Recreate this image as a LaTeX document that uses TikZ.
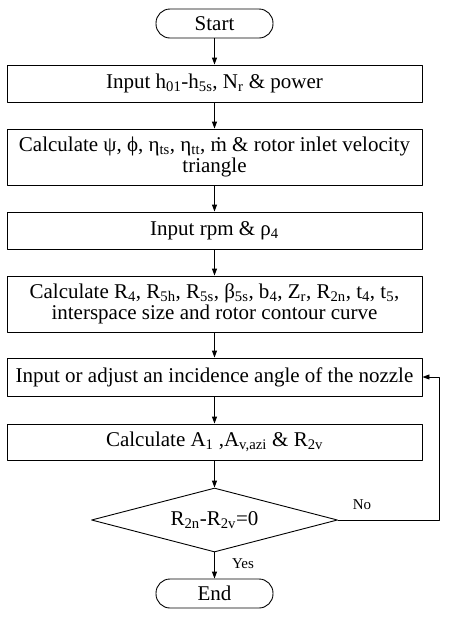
\documentclass[tikz,border=0pt]{standalone}
\usepackage{fontspec}
\setmainfont{Liberation Serif}
\usetikzlibrary{arrows.meta,shapes.geometric}
\tikzset{
    procbox/.style = {draw, line width=0.9pt, minimum width=415pt, inner sep=0pt, align=center},
    termbox/.style = {draw, line width=0.9pt, rounded corners=14pt, minimum width=117pt, minimum height=29pt, inner sep=0pt},
    decbox/.style = {draw, line width=0.9pt, diamond, aspect=3.8, inner sep=0pt, minimum width=246pt, minimum height=64pt},
    flow/.style = {line width=0.9pt, -{Triangle[length=7pt,width=5pt]}}
}
\newcommand{\sub}[1]{\textsubscript{#1}}

\begin{document}
\begin{tikzpicture}[x=1pt, y=-1pt, line cap=round, line join=round, font=\fontsize{21}{21.5}\selectfont]
	\useasboundingbox (0,0) rectangle (450,622);
	\node[termbox] (start) at (214.5,23.5) {Start};
	\node[procbox, minimum height=37pt] (inp) at (214.5,83.5) {Input h\sub{01}-h\sub{5s}, N\sub{r} \& power};
	\node[procbox, minimum height=56pt] (calcA) at (214.5,157) {Calculate ψ, ϕ, η\sub{ts}, η\sub{tt}, ṁ \& rotor inlet velocity\\triangle};
	\node[procbox, minimum height=37pt] (rpm) at (214.5,230.5) {Input rpm \& ρ\sub{4}};
	\node[procbox, minimum height=56pt] (calcB) at (214.5,304) {Calculate R\sub{4}, R\sub{5h}, R\sub{5s}, β\sub{5s}, b\sub{4}, Z\sub{r}, R\sub{2n}, t\sub{4}, t\sub{5},\\interspace size and rotor contour curve};
	\node[procbox, minimum height=38pt] (angle) at (214.5,377) {Input or adjust an incidence angle of the nozzle};
	\node[procbox, minimum height=36pt] (calcC) at (214.5,442) {Calculate A\sub{1} ,A\sub{v,azi} \& R\sub{2v}};
	\node[decbox] (check) at (214.5,520) {R\sub{2n}-R\sub{2v}=0};
	\node[termbox] (end) at (214.5,593.5) {End};
	\coordinate (rt) at (439,520);
	\coordinate (rb) at (439,377);
	\node[font=\fontsize{15}{15}\selectfont] (no) at (362,505) {No};
	\node[font=\fontsize{15}{15}\selectfont] (yes) at (243,564) {Yes};
	\draw[flow] (start) -- (inp);
	\draw[flow] (inp) -- (calcA);
	\draw[flow] (calcA) -- (rpm);
	\draw[flow] (rpm) -- (calcB);
	\draw[flow] (calcB) -- (angle);
	\draw[flow] (angle) -- (calcC);
	\draw[flow] (calcC) -- (check);
	\draw[flow] (check) -- (end);
	\draw[flow] (check.east) -- (rt) -- (rb) -- (angle.east);
\end{tikzpicture}
\end{document}
